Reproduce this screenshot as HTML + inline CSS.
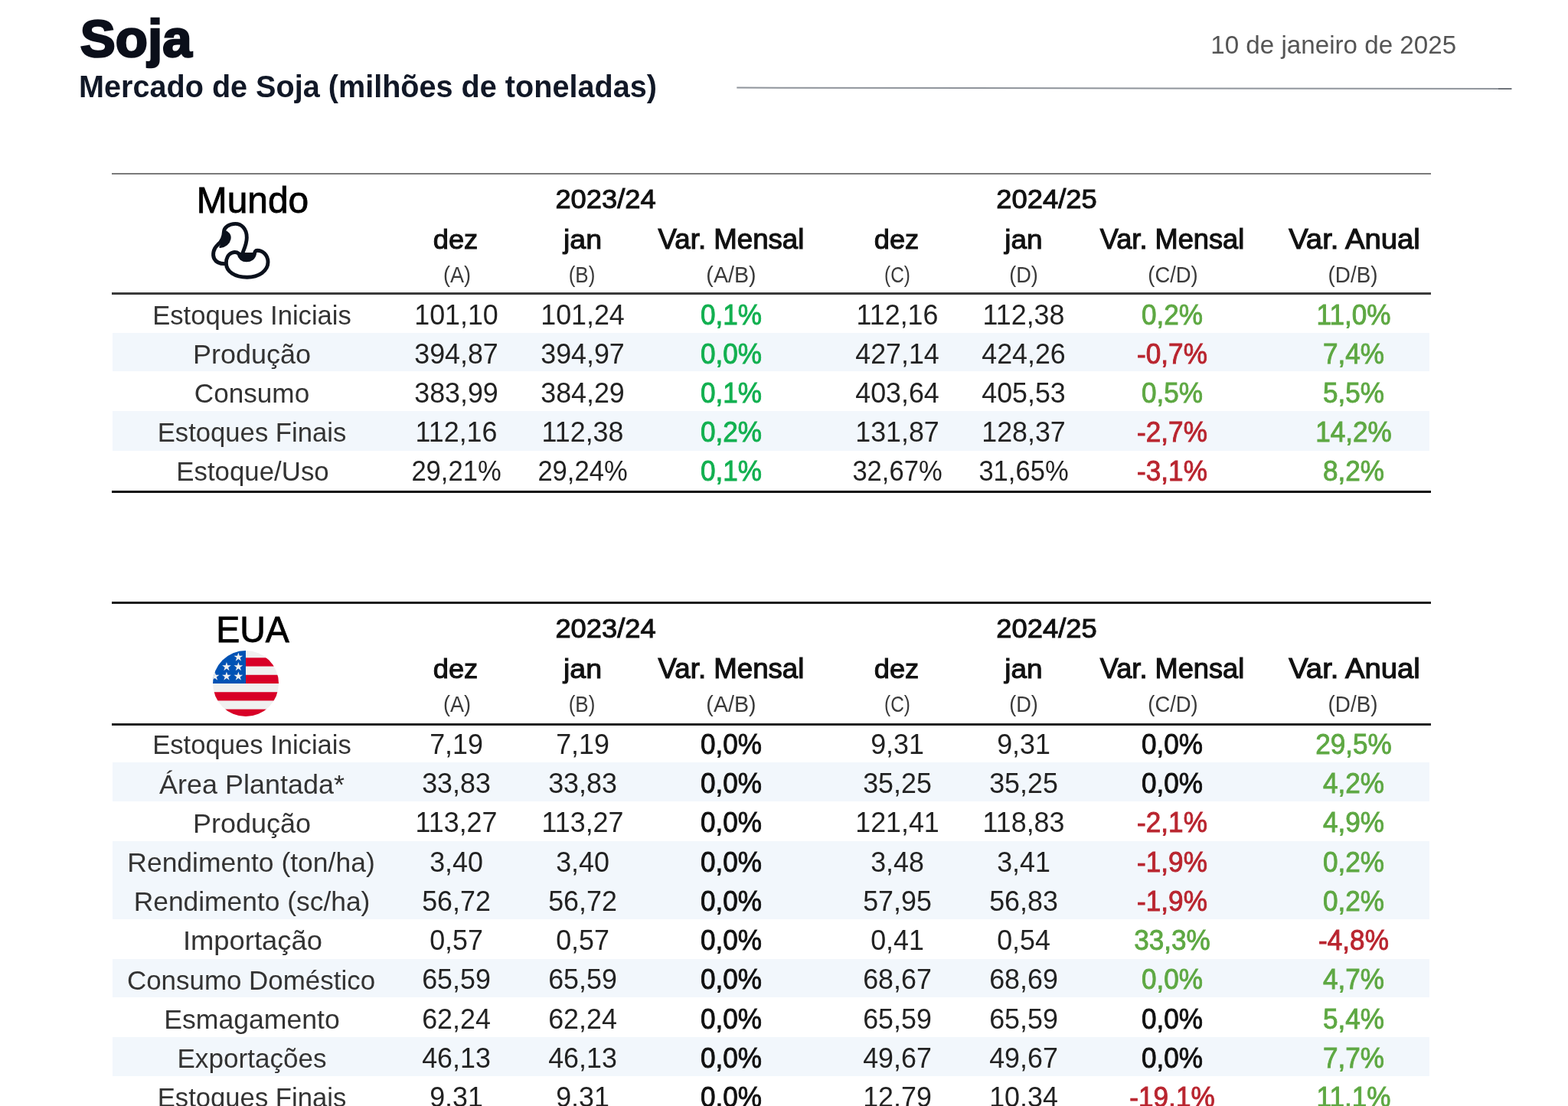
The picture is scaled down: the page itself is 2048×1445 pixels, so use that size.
<!DOCTYPE html><html lang="pt-BR"><head><meta charset="utf-8"><title>Soja</title><style>
html,body{margin:0;padding:0;background:#fff;}
body{width:2048px;height:1445px;overflow:hidden;position:relative;font-family:"Liberation Sans", Arial, sans-serif;}
.t{position:absolute;white-space:nowrap;line-height:1;}
.r{position:absolute;}
</style></head><body>
<div class="r" style="left:146.5px;top:434.5px;width:1720.3px;height:50.9px;background:#f2f7fc"></div>
<div class="r" style="left:146.5px;top:537.4px;width:1720.3px;height:51.4px;background:#f2f7fc"></div>
<div class="r" style="left:146.5px;top:996.3px;width:1720.3px;height:50.5px;background:#f2f7fc"></div>
<div class="r" style="left:146.5px;top:1098.6px;width:1720.3px;height:102.4px;background:#f2f7fc"></div>
<div class="r" style="left:146.5px;top:1252.9px;width:1720.3px;height:50.5px;background:#f2f7fc"></div>
<div class="r" style="left:146.5px;top:1355.2px;width:1720.3px;height:50.4px;background:#f2f7fc"></div>
<div class="r" style="left:146.0px;top:225.6px;width:1723.0px;height:2.2px;background:#7a7a7a"></div>
<div class="r" style="left:146.0px;top:382.4px;width:1723.0px;height:3.0px;background:#3a3a3a"></div>
<div class="r" style="left:146.0px;top:640.8px;width:1723.0px;height:3.0px;background:#0d0d0d"></div>
<div class="r" style="left:146.0px;top:786.4px;width:1723.0px;height:2.6px;background:#1c1c1c"></div>
<div class="r" style="left:146.0px;top:944.6px;width:1723.0px;height:3.0px;background:#222222"></div>
<svg style="position:absolute;left:0;top:0" width="2048" height="200"><line x1="962.3" y1="114.6" x2="1974.3" y2="116.0" stroke="#8f949b" stroke-width="2"/><line x1="1957" y1="116" x2="1974.3" y2="116" stroke="#6e737a" stroke-width="2"/></svg>
<div class="t" style="left:104.8px;transform:scaleX(1.000);transform-origin:0 0;top:16.0px;font-size:69.0px;font-weight:700;color:#0b0f1a;-webkit-text-stroke:2.60px #0b0f1a">Soja</div>
<div class="t" style="left:103.2px;transform:scaleX(0.966);transform-origin:0 0;top:93.3px;font-size:41.0px;font-weight:700;color:#111827">Mercado de Soja (milhões de toneladas)</div>
<div class="t" style="right:145.5px;transform:scaleX(0.990);transform-origin:100% 0;top:42.4px;font-size:33.5px;font-weight:400;color:#555555">10 de janeiro de 2025</div>
<div class="t" style="left:330.4px;transform:translateX(-50%) scaleX(1.013);transform-origin:50% 0;top:238.3px;font-size:47.3px;font-weight:400;color:#000;-webkit-text-stroke:0.80px #000">Mundo</div>
<div class="t" style="left:790.7px;transform:translateX(-50%) scaleX(1.037);transform-origin:50% 0;top:241.8px;font-size:35.0px;font-weight:400;color:#111;-webkit-text-stroke:1.00px #111">2023/24</div>
<div class="t" style="left:1366.6px;transform:translateX(-50%) scaleX(1.039);transform-origin:50% 0;top:241.8px;font-size:35.0px;font-weight:400;color:#111;-webkit-text-stroke:1.00px #111">2024/25</div>
<div class="t" style="left:595.2px;transform:translateX(-50%) scaleX(1.022);transform-origin:50% 0;top:295.7px;font-size:35.5px;font-weight:400;color:#111;-webkit-text-stroke:1.05px #111">dez</div>
<div class="t" style="left:760.7px;transform:translateX(-50%) scaleX(1.059);transform-origin:50% 0;top:295.7px;font-size:35.5px;font-weight:400;color:#111;-webkit-text-stroke:1.05px #111">jan</div>
<div class="t" style="left:1171.4px;transform:translateX(-50%) scaleX(1.022);transform-origin:50% 0;top:295.7px;font-size:35.5px;font-weight:400;color:#111;-webkit-text-stroke:1.05px #111">dez</div>
<div class="t" style="left:1337.0px;transform:translateX(-50%) scaleX(1.043);transform-origin:50% 0;top:295.7px;font-size:35.5px;font-weight:400;color:#111;-webkit-text-stroke:1.05px #111">jan</div>
<div class="t" style="left:955.2px;transform:translateX(-50%) scaleX(1.004);transform-origin:50% 0;top:294.7px;font-size:36.5px;font-weight:400;color:#111;-webkit-text-stroke:1.15px #111">Var. Mensal</div>
<div class="t" style="left:1530.8px;transform:translateX(-50%) scaleX(0.992);transform-origin:50% 0;top:294.7px;font-size:36.5px;font-weight:400;color:#111;-webkit-text-stroke:1.15px #111">Var. Mensal</div>
<div class="t" style="left:1769.0px;transform:translateX(-50%) scaleX(1.049);transform-origin:50% 0;top:294.7px;font-size:36.5px;font-weight:400;color:#111;-webkit-text-stroke:1.15px #111">Var. Anual</div>
<div class="t" style="left:597.2px;transform:translateX(-50%) scaleX(0.933);transform-origin:50% 0;top:345.1px;font-size:29.0px;font-weight:400;color:#3a3a3a">(A)</div>
<div class="t" style="left:759.7px;transform:translateX(-50%) scaleX(0.897);transform-origin:50% 0;top:345.1px;font-size:29.0px;font-weight:400;color:#3a3a3a">(B)</div>
<div class="t" style="left:955.2px;transform:translateX(-50%) scaleX(0.988);transform-origin:50% 0;top:345.1px;font-size:29.0px;font-weight:400;color:#3a3a3a">(A/B)</div>
<div class="t" style="left:1171.6px;transform:translateX(-50%) scaleX(0.843);transform-origin:50% 0;top:345.1px;font-size:29.0px;font-weight:400;color:#3a3a3a">(C)</div>
<div class="t" style="left:1336.8px;transform:translateX(-50%) scaleX(0.937);transform-origin:50% 0;top:345.1px;font-size:29.0px;font-weight:400;color:#3a3a3a">(D)</div>
<div class="t" style="left:1532.4px;transform:translateX(-50%) scaleX(0.945);transform-origin:50% 0;top:345.1px;font-size:29.0px;font-weight:400;color:#3a3a3a">(C/D)</div>
<div class="t" style="left:1767.3px;transform:translateX(-50%) scaleX(0.960);transform-origin:50% 0;top:345.1px;font-size:29.0px;font-weight:400;color:#3a3a3a">(D/B)</div>
<div class="t" style="left:329.4px;transform:translateX(-50%) scaleX(1.001);transform-origin:50% 0;top:394.9px;font-size:34.6px;font-weight:400;color:#333">Estoques Iniciais</div>
<div class="t" style="left:596.0px;transform:translateX(-50%) scaleX(0.990);transform-origin:50% 0;top:393.6px;font-size:36.2px;font-weight:400;color:#222">101,10</div>
<div class="t" style="left:760.5px;transform:translateX(-50%) scaleX(0.990);transform-origin:50% 0;top:393.6px;font-size:36.2px;font-weight:400;color:#222">101,24</div>
<div class="t" style="left:1172.0px;transform:translateX(-50%) scaleX(0.990);transform-origin:50% 0;top:393.6px;font-size:36.2px;font-weight:400;color:#222">112,16</div>
<div class="t" style="left:1337.0px;transform:translateX(-50%) scaleX(0.990);transform-origin:50% 0;top:393.6px;font-size:36.2px;font-weight:400;color:#222">112,38</div>
<div class="t" style="left:954.6px;transform:translateX(-50%) scaleX(0.968);transform-origin:50% 0;top:393.5px;font-size:36.3px;font-weight:400;color:#12b050;-webkit-text-stroke:0.90px #12b050">0,1%</div>
<div class="t" style="left:1530.6px;transform:translateX(-50%) scaleX(0.968);transform-origin:50% 0;top:393.5px;font-size:36.3px;font-weight:400;color:#5ea843;-webkit-text-stroke:0.90px #5ea843">0,2%</div>
<div class="t" style="left:1767.6px;transform:translateX(-50%) scaleX(0.968);transform-origin:50% 0;top:393.5px;font-size:36.3px;font-weight:400;color:#5ea843;-webkit-text-stroke:0.90px #5ea843">11,0%</div>
<div class="t" style="left:328.7px;transform:translateX(-50%) scaleX(1.042);transform-origin:50% 0;top:446.0px;font-size:34.6px;font-weight:400;color:#333">Produção</div>
<div class="t" style="left:596.0px;transform:translateX(-50%) scaleX(0.990);transform-origin:50% 0;top:444.6px;font-size:36.2px;font-weight:400;color:#222">394,87</div>
<div class="t" style="left:760.5px;transform:translateX(-50%) scaleX(0.990);transform-origin:50% 0;top:444.6px;font-size:36.2px;font-weight:400;color:#222">394,97</div>
<div class="t" style="left:1172.0px;transform:translateX(-50%) scaleX(0.990);transform-origin:50% 0;top:444.6px;font-size:36.2px;font-weight:400;color:#222">427,14</div>
<div class="t" style="left:1337.0px;transform:translateX(-50%) scaleX(0.990);transform-origin:50% 0;top:444.6px;font-size:36.2px;font-weight:400;color:#222">424,26</div>
<div class="t" style="left:954.6px;transform:translateX(-50%) scaleX(0.968);transform-origin:50% 0;top:444.6px;font-size:36.3px;font-weight:400;color:#12b050;-webkit-text-stroke:0.90px #12b050">0,0%</div>
<div class="t" style="left:1530.6px;transform:translateX(-50%) scaleX(0.968);transform-origin:50% 0;top:444.6px;font-size:36.3px;font-weight:400;color:#b9252f;-webkit-text-stroke:0.90px #b9252f">-0,7%</div>
<div class="t" style="left:1767.6px;transform:translateX(-50%) scaleX(0.968);transform-origin:50% 0;top:444.6px;font-size:36.3px;font-weight:400;color:#5ea843;-webkit-text-stroke:0.90px #5ea843">7,4%</div>
<div class="t" style="left:328.8px;transform:translateX(-50%) scaleX(1.016);transform-origin:50% 0;top:497.1px;font-size:34.6px;font-weight:400;color:#333">Consumo</div>
<div class="t" style="left:596.0px;transform:translateX(-50%) scaleX(0.990);transform-origin:50% 0;top:495.7px;font-size:36.2px;font-weight:400;color:#222">383,99</div>
<div class="t" style="left:760.5px;transform:translateX(-50%) scaleX(0.990);transform-origin:50% 0;top:495.7px;font-size:36.2px;font-weight:400;color:#222">384,29</div>
<div class="t" style="left:1172.0px;transform:translateX(-50%) scaleX(0.990);transform-origin:50% 0;top:495.7px;font-size:36.2px;font-weight:400;color:#222">403,64</div>
<div class="t" style="left:1337.0px;transform:translateX(-50%) scaleX(0.990);transform-origin:50% 0;top:495.7px;font-size:36.2px;font-weight:400;color:#222">405,53</div>
<div class="t" style="left:954.6px;transform:translateX(-50%) scaleX(0.968);transform-origin:50% 0;top:495.6px;font-size:36.3px;font-weight:400;color:#12b050;-webkit-text-stroke:0.90px #12b050">0,1%</div>
<div class="t" style="left:1530.6px;transform:translateX(-50%) scaleX(0.968);transform-origin:50% 0;top:495.6px;font-size:36.3px;font-weight:400;color:#5ea843;-webkit-text-stroke:0.90px #5ea843">0,5%</div>
<div class="t" style="left:1767.6px;transform:translateX(-50%) scaleX(0.968);transform-origin:50% 0;top:495.6px;font-size:36.3px;font-weight:400;color:#5ea843;-webkit-text-stroke:0.90px #5ea843">5,5%</div>
<div class="t" style="left:329.2px;transform:translateX(-50%) scaleX(1.002);transform-origin:50% 0;top:548.2px;font-size:34.6px;font-weight:400;color:#333">Estoques Finais</div>
<div class="t" style="left:596.0px;transform:translateX(-50%) scaleX(0.990);transform-origin:50% 0;top:546.8px;font-size:36.2px;font-weight:400;color:#222">112,16</div>
<div class="t" style="left:760.5px;transform:translateX(-50%) scaleX(0.990);transform-origin:50% 0;top:546.8px;font-size:36.2px;font-weight:400;color:#222">112,38</div>
<div class="t" style="left:1172.0px;transform:translateX(-50%) scaleX(0.990);transform-origin:50% 0;top:546.8px;font-size:36.2px;font-weight:400;color:#222">131,87</div>
<div class="t" style="left:1337.0px;transform:translateX(-50%) scaleX(0.990);transform-origin:50% 0;top:546.8px;font-size:36.2px;font-weight:400;color:#222">128,37</div>
<div class="t" style="left:954.6px;transform:translateX(-50%) scaleX(0.968);transform-origin:50% 0;top:546.7px;font-size:36.3px;font-weight:400;color:#12b050;-webkit-text-stroke:0.90px #12b050">0,2%</div>
<div class="t" style="left:1530.6px;transform:translateX(-50%) scaleX(0.968);transform-origin:50% 0;top:546.7px;font-size:36.3px;font-weight:400;color:#b9252f;-webkit-text-stroke:0.90px #b9252f">-2,7%</div>
<div class="t" style="left:1767.6px;transform:translateX(-50%) scaleX(0.968);transform-origin:50% 0;top:546.7px;font-size:36.3px;font-weight:400;color:#5ea843;-webkit-text-stroke:0.90px #5ea843">14,2%</div>
<div class="t" style="left:329.8px;transform:translateX(-50%) scaleX(1.007);transform-origin:50% 0;top:599.2px;font-size:34.6px;font-weight:400;color:#333">Estoque/Uso</div>
<div class="t" style="left:596.0px;transform:translateX(-50%) scaleX(0.955);transform-origin:50% 0;top:597.9px;font-size:36.2px;font-weight:400;color:#222">29,21%</div>
<div class="t" style="left:760.5px;transform:translateX(-50%) scaleX(0.955);transform-origin:50% 0;top:597.9px;font-size:36.2px;font-weight:400;color:#222">29,24%</div>
<div class="t" style="left:1172.0px;transform:translateX(-50%) scaleX(0.955);transform-origin:50% 0;top:597.9px;font-size:36.2px;font-weight:400;color:#222">32,67%</div>
<div class="t" style="left:1337.0px;transform:translateX(-50%) scaleX(0.955);transform-origin:50% 0;top:597.9px;font-size:36.2px;font-weight:400;color:#222">31,65%</div>
<div class="t" style="left:954.6px;transform:translateX(-50%) scaleX(0.968);transform-origin:50% 0;top:597.8px;font-size:36.3px;font-weight:400;color:#12b050;-webkit-text-stroke:0.90px #12b050">0,1%</div>
<div class="t" style="left:1530.6px;transform:translateX(-50%) scaleX(0.968);transform-origin:50% 0;top:597.8px;font-size:36.3px;font-weight:400;color:#b9252f;-webkit-text-stroke:0.90px #b9252f">-3,1%</div>
<div class="t" style="left:1767.6px;transform:translateX(-50%) scaleX(0.968);transform-origin:50% 0;top:597.8px;font-size:36.3px;font-weight:400;color:#5ea843;-webkit-text-stroke:0.90px #5ea843">8,2%</div>
<div class="t" style="left:330.3px;transform:translateX(-50%) scaleX(0.983);transform-origin:50% 0;top:798.8px;font-size:47.3px;font-weight:400;color:#000;-webkit-text-stroke:0.80px #000">EUA</div>
<div class="t" style="left:790.7px;transform:translateX(-50%) scaleX(1.037);transform-origin:50% 0;top:803.1px;font-size:35.0px;font-weight:400;color:#111;-webkit-text-stroke:1.00px #111">2023/24</div>
<div class="t" style="left:1366.6px;transform:translateX(-50%) scaleX(1.039);transform-origin:50% 0;top:803.1px;font-size:35.0px;font-weight:400;color:#111;-webkit-text-stroke:1.00px #111">2024/25</div>
<div class="t" style="left:595.2px;transform:translateX(-50%) scaleX(1.022);transform-origin:50% 0;top:857.0px;font-size:35.5px;font-weight:400;color:#111;-webkit-text-stroke:1.05px #111">dez</div>
<div class="t" style="left:760.7px;transform:translateX(-50%) scaleX(1.059);transform-origin:50% 0;top:857.0px;font-size:35.5px;font-weight:400;color:#111;-webkit-text-stroke:1.05px #111">jan</div>
<div class="t" style="left:1171.4px;transform:translateX(-50%) scaleX(1.022);transform-origin:50% 0;top:857.0px;font-size:35.5px;font-weight:400;color:#111;-webkit-text-stroke:1.05px #111">dez</div>
<div class="t" style="left:1337.0px;transform:translateX(-50%) scaleX(1.043);transform-origin:50% 0;top:857.0px;font-size:35.5px;font-weight:400;color:#111;-webkit-text-stroke:1.05px #111">jan</div>
<div class="t" style="left:955.2px;transform:translateX(-50%) scaleX(1.004);transform-origin:50% 0;top:856.0px;font-size:36.5px;font-weight:400;color:#111;-webkit-text-stroke:1.15px #111">Var. Mensal</div>
<div class="t" style="left:1530.8px;transform:translateX(-50%) scaleX(0.992);transform-origin:50% 0;top:856.0px;font-size:36.5px;font-weight:400;color:#111;-webkit-text-stroke:1.15px #111">Var. Mensal</div>
<div class="t" style="left:1769.0px;transform:translateX(-50%) scaleX(1.049);transform-origin:50% 0;top:856.0px;font-size:36.5px;font-weight:400;color:#111;-webkit-text-stroke:1.15px #111">Var. Anual</div>
<div class="t" style="left:597.2px;transform:translateX(-50%) scaleX(0.933);transform-origin:50% 0;top:906.4px;font-size:29.0px;font-weight:400;color:#3a3a3a">(A)</div>
<div class="t" style="left:759.7px;transform:translateX(-50%) scaleX(0.897);transform-origin:50% 0;top:906.4px;font-size:29.0px;font-weight:400;color:#3a3a3a">(B)</div>
<div class="t" style="left:955.2px;transform:translateX(-50%) scaleX(0.988);transform-origin:50% 0;top:906.4px;font-size:29.0px;font-weight:400;color:#3a3a3a">(A/B)</div>
<div class="t" style="left:1171.6px;transform:translateX(-50%) scaleX(0.843);transform-origin:50% 0;top:906.4px;font-size:29.0px;font-weight:400;color:#3a3a3a">(C)</div>
<div class="t" style="left:1336.8px;transform:translateX(-50%) scaleX(0.937);transform-origin:50% 0;top:906.4px;font-size:29.0px;font-weight:400;color:#3a3a3a">(D)</div>
<div class="t" style="left:1532.4px;transform:translateX(-50%) scaleX(0.945);transform-origin:50% 0;top:906.4px;font-size:29.0px;font-weight:400;color:#3a3a3a">(C/D)</div>
<div class="t" style="left:1767.3px;transform:translateX(-50%) scaleX(0.960);transform-origin:50% 0;top:906.4px;font-size:29.0px;font-weight:400;color:#3a3a3a">(D/B)</div>
<div class="t" style="left:329.4px;transform:translateX(-50%) scaleX(1.001);transform-origin:50% 0;top:956.2px;font-size:34.6px;font-weight:400;color:#333">Estoques Iniciais</div>
<div class="t" style="left:596.0px;transform:translateX(-50%) scaleX(0.990);transform-origin:50% 0;top:954.9px;font-size:36.2px;font-weight:400;color:#222">7,19</div>
<div class="t" style="left:760.5px;transform:translateX(-50%) scaleX(0.990);transform-origin:50% 0;top:954.9px;font-size:36.2px;font-weight:400;color:#222">7,19</div>
<div class="t" style="left:1172.0px;transform:translateX(-50%) scaleX(0.990);transform-origin:50% 0;top:954.9px;font-size:36.2px;font-weight:400;color:#222">9,31</div>
<div class="t" style="left:1337.0px;transform:translateX(-50%) scaleX(0.990);transform-origin:50% 0;top:954.9px;font-size:36.2px;font-weight:400;color:#222">9,31</div>
<div class="t" style="left:954.6px;transform:translateX(-50%) scaleX(0.968);transform-origin:50% 0;top:954.8px;font-size:36.3px;font-weight:400;color:#111111;-webkit-text-stroke:0.90px #111111">0,0%</div>
<div class="t" style="left:1530.6px;transform:translateX(-50%) scaleX(0.968);transform-origin:50% 0;top:954.8px;font-size:36.3px;font-weight:400;color:#111111;-webkit-text-stroke:0.90px #111111">0,0%</div>
<div class="t" style="left:1767.6px;transform:translateX(-50%) scaleX(0.968);transform-origin:50% 0;top:954.8px;font-size:36.3px;font-weight:400;color:#5ea843;-webkit-text-stroke:0.90px #5ea843">29,5%</div>
<div class="t" style="left:328.8px;transform:translateX(-50%) scaleX(1.040);transform-origin:50% 0;top:1007.5px;font-size:34.6px;font-weight:400;color:#333">Área Plantada*</div>
<div class="t" style="left:596.0px;transform:translateX(-50%) scaleX(0.990);transform-origin:50% 0;top:1006.1px;font-size:36.2px;font-weight:400;color:#222">33,83</div>
<div class="t" style="left:760.5px;transform:translateX(-50%) scaleX(0.990);transform-origin:50% 0;top:1006.1px;font-size:36.2px;font-weight:400;color:#222">33,83</div>
<div class="t" style="left:1172.0px;transform:translateX(-50%) scaleX(0.990);transform-origin:50% 0;top:1006.1px;font-size:36.2px;font-weight:400;color:#222">35,25</div>
<div class="t" style="left:1337.0px;transform:translateX(-50%) scaleX(0.990);transform-origin:50% 0;top:1006.1px;font-size:36.2px;font-weight:400;color:#222">35,25</div>
<div class="t" style="left:954.6px;transform:translateX(-50%) scaleX(0.968);transform-origin:50% 0;top:1006.0px;font-size:36.3px;font-weight:400;color:#111111;-webkit-text-stroke:0.90px #111111">0,0%</div>
<div class="t" style="left:1530.6px;transform:translateX(-50%) scaleX(0.968);transform-origin:50% 0;top:1006.0px;font-size:36.3px;font-weight:400;color:#111111;-webkit-text-stroke:0.90px #111111">0,0%</div>
<div class="t" style="left:1767.6px;transform:translateX(-50%) scaleX(0.968);transform-origin:50% 0;top:1006.0px;font-size:36.3px;font-weight:400;color:#5ea843;-webkit-text-stroke:0.90px #5ea843">4,2%</div>
<div class="t" style="left:328.7px;transform:translateX(-50%) scaleX(1.042);transform-origin:50% 0;top:1058.7px;font-size:34.6px;font-weight:400;color:#333">Produção</div>
<div class="t" style="left:596.0px;transform:translateX(-50%) scaleX(0.990);transform-origin:50% 0;top:1057.3px;font-size:36.2px;font-weight:400;color:#222">113,27</div>
<div class="t" style="left:760.5px;transform:translateX(-50%) scaleX(0.990);transform-origin:50% 0;top:1057.3px;font-size:36.2px;font-weight:400;color:#222">113,27</div>
<div class="t" style="left:1172.0px;transform:translateX(-50%) scaleX(0.990);transform-origin:50% 0;top:1057.3px;font-size:36.2px;font-weight:400;color:#222">121,41</div>
<div class="t" style="left:1337.0px;transform:translateX(-50%) scaleX(0.990);transform-origin:50% 0;top:1057.3px;font-size:36.2px;font-weight:400;color:#222">118,83</div>
<div class="t" style="left:954.6px;transform:translateX(-50%) scaleX(0.968);transform-origin:50% 0;top:1057.3px;font-size:36.3px;font-weight:400;color:#111111;-webkit-text-stroke:0.90px #111111">0,0%</div>
<div class="t" style="left:1530.6px;transform:translateX(-50%) scaleX(0.968);transform-origin:50% 0;top:1057.3px;font-size:36.3px;font-weight:400;color:#b9252f;-webkit-text-stroke:0.90px #b9252f">-2,1%</div>
<div class="t" style="left:1767.6px;transform:translateX(-50%) scaleX(0.968);transform-origin:50% 0;top:1057.3px;font-size:36.3px;font-weight:400;color:#5ea843;-webkit-text-stroke:0.90px #5ea843">4,9%</div>
<div class="t" style="left:327.6px;transform:translateX(-50%) scaleX(1.026);transform-origin:50% 0;top:1109.9px;font-size:34.6px;font-weight:400;color:#333">Rendimento (ton/ha)</div>
<div class="t" style="left:596.0px;transform:translateX(-50%) scaleX(0.990);transform-origin:50% 0;top:1108.6px;font-size:36.2px;font-weight:400;color:#222">3,40</div>
<div class="t" style="left:760.5px;transform:translateX(-50%) scaleX(0.990);transform-origin:50% 0;top:1108.6px;font-size:36.2px;font-weight:400;color:#222">3,40</div>
<div class="t" style="left:1172.0px;transform:translateX(-50%) scaleX(0.990);transform-origin:50% 0;top:1108.6px;font-size:36.2px;font-weight:400;color:#222">3,48</div>
<div class="t" style="left:1337.0px;transform:translateX(-50%) scaleX(0.990);transform-origin:50% 0;top:1108.6px;font-size:36.2px;font-weight:400;color:#222">3,41</div>
<div class="t" style="left:954.6px;transform:translateX(-50%) scaleX(0.968);transform-origin:50% 0;top:1108.5px;font-size:36.3px;font-weight:400;color:#111111;-webkit-text-stroke:0.90px #111111">0,0%</div>
<div class="t" style="left:1530.6px;transform:translateX(-50%) scaleX(0.968);transform-origin:50% 0;top:1108.5px;font-size:36.3px;font-weight:400;color:#b9252f;-webkit-text-stroke:0.90px #b9252f">-1,9%</div>
<div class="t" style="left:1767.6px;transform:translateX(-50%) scaleX(0.968);transform-origin:50% 0;top:1108.5px;font-size:36.3px;font-weight:400;color:#5ea843;-webkit-text-stroke:0.90px #5ea843">0,2%</div>
<div class="t" style="left:328.8px;transform:translateX(-50%) scaleX(1.023);transform-origin:50% 0;top:1161.2px;font-size:34.6px;font-weight:400;color:#333">Rendimento (sc/ha)</div>
<div class="t" style="left:596.0px;transform:translateX(-50%) scaleX(0.990);transform-origin:50% 0;top:1159.8px;font-size:36.2px;font-weight:400;color:#222">56,72</div>
<div class="t" style="left:760.5px;transform:translateX(-50%) scaleX(0.990);transform-origin:50% 0;top:1159.8px;font-size:36.2px;font-weight:400;color:#222">56,72</div>
<div class="t" style="left:1172.0px;transform:translateX(-50%) scaleX(0.990);transform-origin:50% 0;top:1159.8px;font-size:36.2px;font-weight:400;color:#222">57,95</div>
<div class="t" style="left:1337.0px;transform:translateX(-50%) scaleX(0.990);transform-origin:50% 0;top:1159.8px;font-size:36.2px;font-weight:400;color:#222">56,83</div>
<div class="t" style="left:954.6px;transform:translateX(-50%) scaleX(0.968);transform-origin:50% 0;top:1159.7px;font-size:36.3px;font-weight:400;color:#111111;-webkit-text-stroke:0.90px #111111">0,0%</div>
<div class="t" style="left:1530.6px;transform:translateX(-50%) scaleX(0.968);transform-origin:50% 0;top:1159.7px;font-size:36.3px;font-weight:400;color:#b9252f;-webkit-text-stroke:0.90px #b9252f">-1,9%</div>
<div class="t" style="left:1767.6px;transform:translateX(-50%) scaleX(0.968);transform-origin:50% 0;top:1159.7px;font-size:36.3px;font-weight:400;color:#5ea843;-webkit-text-stroke:0.90px #5ea843">0,2%</div>
<div class="t" style="left:329.8px;transform:translateX(-50%) scaleX(1.053);transform-origin:50% 0;top:1212.4px;font-size:34.6px;font-weight:400;color:#333">Importação</div>
<div class="t" style="left:596.0px;transform:translateX(-50%) scaleX(0.990);transform-origin:50% 0;top:1211.1px;font-size:36.2px;font-weight:400;color:#222">0,57</div>
<div class="t" style="left:760.5px;transform:translateX(-50%) scaleX(0.990);transform-origin:50% 0;top:1211.1px;font-size:36.2px;font-weight:400;color:#222">0,57</div>
<div class="t" style="left:1172.0px;transform:translateX(-50%) scaleX(0.990);transform-origin:50% 0;top:1211.1px;font-size:36.2px;font-weight:400;color:#222">0,41</div>
<div class="t" style="left:1337.0px;transform:translateX(-50%) scaleX(0.990);transform-origin:50% 0;top:1211.1px;font-size:36.2px;font-weight:400;color:#222">0,54</div>
<div class="t" style="left:954.6px;transform:translateX(-50%) scaleX(0.968);transform-origin:50% 0;top:1211.0px;font-size:36.3px;font-weight:400;color:#111111;-webkit-text-stroke:0.90px #111111">0,0%</div>
<div class="t" style="left:1530.6px;transform:translateX(-50%) scaleX(0.968);transform-origin:50% 0;top:1211.0px;font-size:36.3px;font-weight:400;color:#5ea843;-webkit-text-stroke:0.90px #5ea843">33,3%</div>
<div class="t" style="left:1767.6px;transform:translateX(-50%) scaleX(0.968);transform-origin:50% 0;top:1211.0px;font-size:36.3px;font-weight:400;color:#b9252f;-webkit-text-stroke:0.90px #b9252f">-4,8%</div>
<div class="t" style="left:328.3px;transform:translateX(-50%) scaleX(1.010);transform-origin:50% 0;top:1263.7px;font-size:34.6px;font-weight:400;color:#333">Consumo Doméstico</div>
<div class="t" style="left:596.0px;transform:translateX(-50%) scaleX(0.990);transform-origin:50% 0;top:1262.3px;font-size:36.2px;font-weight:400;color:#222">65,59</div>
<div class="t" style="left:760.5px;transform:translateX(-50%) scaleX(0.990);transform-origin:50% 0;top:1262.3px;font-size:36.2px;font-weight:400;color:#222">65,59</div>
<div class="t" style="left:1172.0px;transform:translateX(-50%) scaleX(0.990);transform-origin:50% 0;top:1262.3px;font-size:36.2px;font-weight:400;color:#222">68,67</div>
<div class="t" style="left:1337.0px;transform:translateX(-50%) scaleX(0.990);transform-origin:50% 0;top:1262.3px;font-size:36.2px;font-weight:400;color:#222">68,69</div>
<div class="t" style="left:954.6px;transform:translateX(-50%) scaleX(0.968);transform-origin:50% 0;top:1262.2px;font-size:36.3px;font-weight:400;color:#111111;-webkit-text-stroke:0.90px #111111">0,0%</div>
<div class="t" style="left:1530.6px;transform:translateX(-50%) scaleX(0.968);transform-origin:50% 0;top:1262.2px;font-size:36.3px;font-weight:400;color:#5ea843;-webkit-text-stroke:0.90px #5ea843">0,0%</div>
<div class="t" style="left:1767.6px;transform:translateX(-50%) scaleX(0.968);transform-origin:50% 0;top:1262.2px;font-size:36.3px;font-weight:400;color:#5ea843;-webkit-text-stroke:0.90px #5ea843">4,7%</div>
<div class="t" style="left:329.2px;transform:translateX(-50%) scaleX(1.030);transform-origin:50% 0;top:1314.9px;font-size:34.6px;font-weight:400;color:#333">Esmagamento</div>
<div class="t" style="left:596.0px;transform:translateX(-50%) scaleX(0.990);transform-origin:50% 0;top:1313.5px;font-size:36.2px;font-weight:400;color:#222">62,24</div>
<div class="t" style="left:760.5px;transform:translateX(-50%) scaleX(0.990);transform-origin:50% 0;top:1313.5px;font-size:36.2px;font-weight:400;color:#222">62,24</div>
<div class="t" style="left:1172.0px;transform:translateX(-50%) scaleX(0.990);transform-origin:50% 0;top:1313.5px;font-size:36.2px;font-weight:400;color:#222">65,59</div>
<div class="t" style="left:1337.0px;transform:translateX(-50%) scaleX(0.990);transform-origin:50% 0;top:1313.5px;font-size:36.2px;font-weight:400;color:#222">65,59</div>
<div class="t" style="left:954.6px;transform:translateX(-50%) scaleX(0.968);transform-origin:50% 0;top:1313.5px;font-size:36.3px;font-weight:400;color:#111111;-webkit-text-stroke:0.90px #111111">0,0%</div>
<div class="t" style="left:1530.6px;transform:translateX(-50%) scaleX(0.968);transform-origin:50% 0;top:1313.5px;font-size:36.3px;font-weight:400;color:#111111;-webkit-text-stroke:0.90px #111111">0,0%</div>
<div class="t" style="left:1767.6px;transform:translateX(-50%) scaleX(0.968);transform-origin:50% 0;top:1313.5px;font-size:36.3px;font-weight:400;color:#5ea843;-webkit-text-stroke:0.90px #5ea843">5,4%</div>
<div class="t" style="left:328.8px;transform:translateX(-50%) scaleX(1.015);transform-origin:50% 0;top:1366.1px;font-size:34.6px;font-weight:400;color:#333">Exportações</div>
<div class="t" style="left:596.0px;transform:translateX(-50%) scaleX(0.990);transform-origin:50% 0;top:1364.8px;font-size:36.2px;font-weight:400;color:#222">46,13</div>
<div class="t" style="left:760.5px;transform:translateX(-50%) scaleX(0.990);transform-origin:50% 0;top:1364.8px;font-size:36.2px;font-weight:400;color:#222">46,13</div>
<div class="t" style="left:1172.0px;transform:translateX(-50%) scaleX(0.990);transform-origin:50% 0;top:1364.8px;font-size:36.2px;font-weight:400;color:#222">49,67</div>
<div class="t" style="left:1337.0px;transform:translateX(-50%) scaleX(0.990);transform-origin:50% 0;top:1364.8px;font-size:36.2px;font-weight:400;color:#222">49,67</div>
<div class="t" style="left:954.6px;transform:translateX(-50%) scaleX(0.968);transform-origin:50% 0;top:1364.7px;font-size:36.3px;font-weight:400;color:#111111;-webkit-text-stroke:0.90px #111111">0,0%</div>
<div class="t" style="left:1530.6px;transform:translateX(-50%) scaleX(0.968);transform-origin:50% 0;top:1364.7px;font-size:36.3px;font-weight:400;color:#111111;-webkit-text-stroke:0.90px #111111">0,0%</div>
<div class="t" style="left:1767.6px;transform:translateX(-50%) scaleX(0.968);transform-origin:50% 0;top:1364.7px;font-size:36.3px;font-weight:400;color:#5ea843;-webkit-text-stroke:0.90px #5ea843">7,7%</div>
<div class="t" style="left:329.2px;transform:translateX(-50%) scaleX(1.002);transform-origin:50% 0;top:1417.4px;font-size:34.6px;font-weight:400;color:#333">Estoques Finais</div>
<div class="t" style="left:596.0px;transform:translateX(-50%) scaleX(0.990);transform-origin:50% 0;top:1416.0px;font-size:36.2px;font-weight:400;color:#222">9,31</div>
<div class="t" style="left:760.5px;transform:translateX(-50%) scaleX(0.990);transform-origin:50% 0;top:1416.0px;font-size:36.2px;font-weight:400;color:#222">9,31</div>
<div class="t" style="left:1172.0px;transform:translateX(-50%) scaleX(0.990);transform-origin:50% 0;top:1416.0px;font-size:36.2px;font-weight:400;color:#222">12,79</div>
<div class="t" style="left:1337.0px;transform:translateX(-50%) scaleX(0.990);transform-origin:50% 0;top:1416.0px;font-size:36.2px;font-weight:400;color:#222">10,34</div>
<div class="t" style="left:954.6px;transform:translateX(-50%) scaleX(0.968);transform-origin:50% 0;top:1415.9px;font-size:36.3px;font-weight:400;color:#111111;-webkit-text-stroke:0.90px #111111">0,0%</div>
<div class="t" style="left:1530.6px;transform:translateX(-50%) scaleX(0.968);transform-origin:50% 0;top:1415.9px;font-size:36.3px;font-weight:400;color:#b9252f;-webkit-text-stroke:0.90px #b9252f">-19,1%</div>
<div class="t" style="left:1767.6px;transform:translateX(-50%) scaleX(0.968);transform-origin:50% 0;top:1415.9px;font-size:36.3px;font-weight:400;color:#5ea843;-webkit-text-stroke:0.90px #5ea843">11,1%</div>
<svg style="position:absolute;left:260px;top:280px" width="110" height="100" viewBox="260 280 110 100"><g stroke="#0b111c" stroke-width="4.9" stroke-linejoin="round" stroke-linecap="round"><path fill="#fff" d="M316.9 330.5 C319.5 324 322.3 318 322.3 310.5 C322.3 298.5 315 292.4 307.4 292.4 C299 292.4 292.6 297 292.4 303 C292.2 311 289 316 284.2 320 C278.5 325 277.3 333 279.8 338 C282.5 343 288.5 345 295.2 344.6"/><path fill="#0b111c" stroke-width="2.6" d="M292.8 301.8 C297.8 303.2 301.2 307.2 300.2 312.2 C299.2 317.6 294.2 322 287.6 322.6 C290.8 318.5 292.6 313 292.8 301.8 Z"/><path fill="#fff" d="M312 331.5 C309.5 329.5 306 329.2 303 330.2 C298 332 295.3 337.5 295.4 344 C295.5 355 307 362.2 322.7 362.2 C338 362.2 350 354 350 342.6 C350 333 343 327.3 336 327.3 C333.5 327.3 332.5 329.5 332.5 331.5 C331.5 337 327 339.8 322 339.8 C317 339.8 313 337 312 331.5 Z"/><path fill="#0b111c" stroke-width="2.4" d="M312.5 331.3 L332.2 331.3 C331.2 336.6 327 339.4 322.2 339.4 C317.4 339.4 313.4 336.6 312.5 331.3 Z"/></g></svg>

<svg style="position:absolute;left:277.5px;top:849.8px" width="86" height="86" viewBox="0 0 512 512"><defs><clipPath id="fc"><circle cx="256" cy="256" r="256"/></clipPath></defs><g clip-path="url(#fc)"><rect x="0" y="0" width="512" height="512" fill="#f0f0f0"/><rect x="244.87" y="55.652" width="280" height="66.783" fill="#d80027"/><rect x="244.87" y="189.217" width="280" height="66.783" fill="#d80027"/><rect x="0" y="322.783" width="512" height="66.783" fill="#d80027"/><rect x="0" y="456.348" width="512" height="60" fill="#d80027"/><rect x="0" y="0" width="256" height="256" fill="#0052b4"/><polygon fill="#f0f0f0" points="198.60,14.50 206.89,39.99 233.59,40.00 212.01,55.76 220.29,81.25 198.60,65.50 176.91,81.25 185.19,55.76 163.61,40.00 190.31,39.99"/><polygon fill="#f0f0f0" points="106.80,89.00 115.09,114.49 141.79,114.50 120.21,130.26 128.49,155.75 106.80,140.00 85.11,155.75 93.39,130.26 71.81,114.50 98.51,114.49"/><polygon fill="#f0f0f0" points="198.60,89.00 206.89,114.49 233.59,114.50 212.01,130.26 220.29,155.75 198.60,140.00 176.91,155.75 185.19,130.26 163.61,114.50 190.31,114.49"/><polygon fill="#f0f0f0" points="15.00,163.60 23.29,189.09 49.99,189.10 28.41,204.86 36.69,230.35 15.00,214.60 -6.69,230.35 1.59,204.86 -19.99,189.10 6.71,189.09"/><polygon fill="#f0f0f0" points="106.80,163.60 115.09,189.09 141.79,189.10 120.21,204.86 128.49,230.35 106.80,214.60 85.11,230.35 93.39,204.86 71.81,189.10 98.51,189.09"/><polygon fill="#f0f0f0" points="198.60,163.60 206.89,189.09 233.59,189.10 212.01,204.86 220.29,230.35 198.60,214.60 176.91,230.35 185.19,204.86 163.61,189.10 190.31,189.09"/></g></svg>

</body></html>
